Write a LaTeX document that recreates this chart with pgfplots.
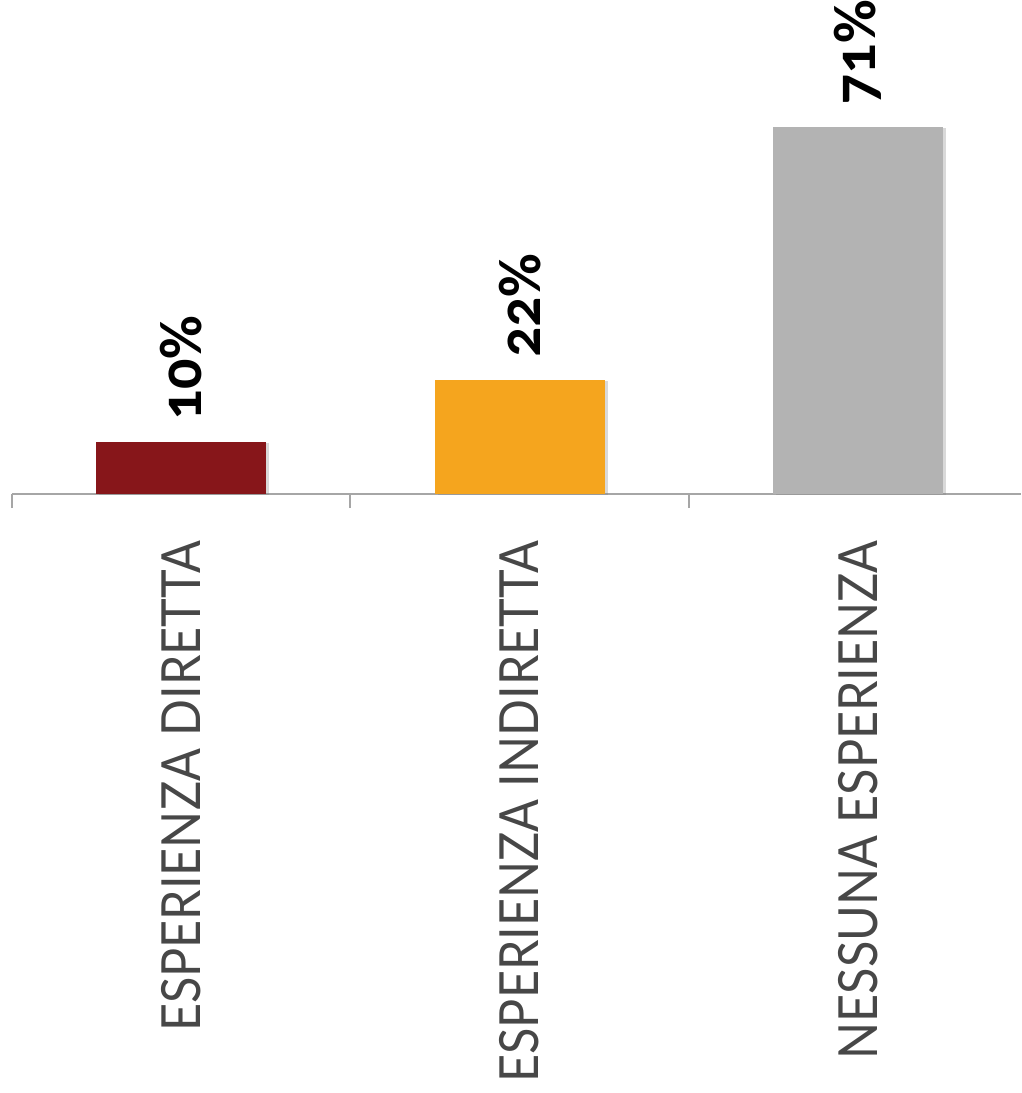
\documentclass[border=0pt]{standalone}
\usepackage{fontspec}
\setmainfont{Lato}
\newfontfamily\catfont[FakeStretch=0.9]{Lato}
\newfontfamily\valfont[Numbers=OldStyle]{Carlito}
\usepackage{pgfplots}
\pgfplotsset{compat=1.18}
\usetikzlibrary{shadows}

\definecolor{barred}{HTML}{87161A}
\definecolor{barorange}{HTML}{F5A51E}
\definecolor{bargray}{HTML}{B3B3B3}
\definecolor{axisgray}{HTML}{A6A6A6}

\begin{document}
\begin{tikzpicture}
\begin{axis}[
    scale only axis,
    width=504.5pt, height=247pt,
    xmin=-0.5, xmax=2.481,
    ymin=0, ymax=95.5,
    axis x line*=bottom,
    axis y line=none,
    x axis line style={axisgray, line width=1pt, -},
    ybar, bar width=85pt, bar shift=0pt,
    xtick={0,1,2},
    xticklabels={ESPERIENZA DIRETTA, ESPERIENZA INDIRETTA, NESSUNA ESPERIENZA},
    minor xtick={-0.5,0.5,1.5},
    major tick length=0pt,
    minor tick length=7pt,
    tick align=outside,
    every tick/.style={axisgray, line width=1pt},
    xticklabel shift=23pt,
    xticklabel style={rotate=90, anchor=east, inner sep=0pt,
        font=\catfont\fontsize{27}{27}\selectfont, text=black!72},
    /pgf/number format/assume math mode=true,
    nodes near coords={\hspace*{11pt}\pgfmathprintnumber{\pgfplotspointmeta}\%},
    every node near coord/.append style={rotate=90, anchor=west, inner sep=0pt,
        font=\valfont\bfseries\fontsize{30}{30}\selectfont, text=black},
    clip=false,
]
\addplot[fill=barred, draw=none, drop shadow={shadow xshift=1.5pt, shadow yshift=-0.5pt, opacity=0.3}]
    coordinates {(0,10)};
\addplot[fill=barorange, draw=none, drop shadow={shadow xshift=1.5pt, shadow yshift=-0.5pt, opacity=0.3}]
    coordinates {(1,22)};
\addplot[fill=bargray, draw=none, drop shadow={shadow xshift=1.5pt, shadow yshift=-0.5pt, opacity=0.3}]
    coordinates {(2,71)};
\end{axis}
\path ([xshift=-6pt]current axis.south west);
\path ([yshift=-299.5pt]current axis.south west);
\end{tikzpicture}
\end{document}
